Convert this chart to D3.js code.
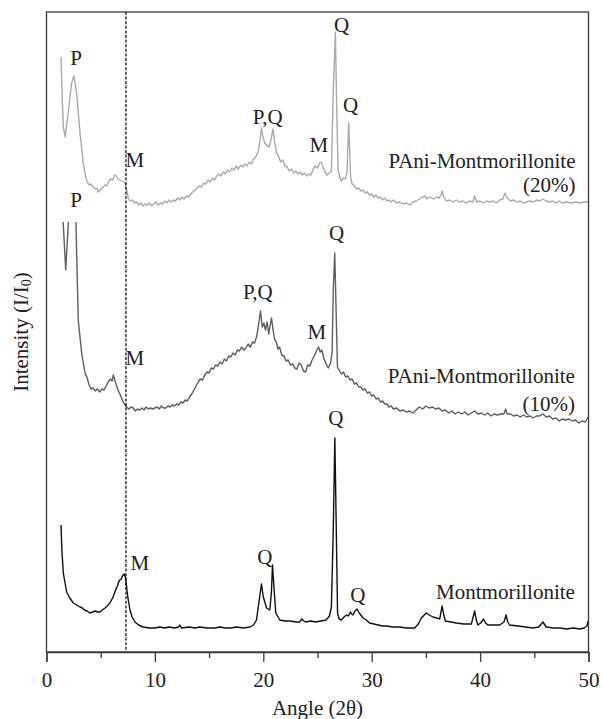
<!DOCTYPE html>
<html><head><meta charset="utf-8">
<script src="https://cdn.jsdelivr.net/npm/d3@7"></script>
<style>body{margin:0;background:#fff}svg{display:block}text{font-family:"Liberation Serif","Times New Roman",serif;fill:#222}</style>
</head><body><div id="chart"></div>
<script>
// ---- data: [angle (2θ), stacked intensity (arbitrary units, offset per trace)] ----
const montmorillonite = [[1.34,127],[1.42,102],[1.55,79],[1.86,60],[2.15,54],[2.47,49],[2.8,47],[3.09,45],[3.3,44],[3.5,42],[3.75,41],[4.0,39],[4.25,40],[4.5,41],[4.7,40],[4.93,40],[5.15,42],[5.4,44],[5.6,46],[5.85,49],[6.1,54],[6.31,60],[6.45,64],[6.55,66],[6.65,70],[6.77,72],[6.9,73],[7.0,76],[7.17,78],[7.3,74],[7.39,65],[7.5,55],[7.7,42],[7.9,35],[8.16,30],[8.5,27],[8.9,25],[9.5,24],[10.0,24],[10.46,25],[10.9,24],[11.3,25],[11.8,24],[12.2,25],[12.3,27],[12.45,24],[13.2,25],[13.7,24],[14.15,25],[14.8,24],[15.5,24],[16.0,25],[16.5,24],[17.0,24],[17.5,25],[18.2,24],[18.76,25],[19.1,27],[19.37,32],[19.6,50],[19.83,68],[20.0,55],[20.3,44],[20.6,42],[20.75,60],[20.85,87],[20.95,70],[21.15,39],[21.52,32],[22.0,31],[22.5,31],[23.0,30],[23.36,30],[23.55,33],[23.75,31],[23.9,30],[24.4,31],[24.8,30],[25.3,31],[25.8,32],[26.1,36],[26.28,45],[26.45,120],[26.6,214],[26.75,110],[26.85,39],[27.0,33],[27.2,32],[27.45,35],[27.67,37],[27.85,36],[28.03,40],[28.15,38],[28.28,37],[28.45,41],[28.64,43],[28.85,39],[29.2,34],[29.5,32],[29.8,29],[30.2,28],[30.6,27],[31.0,26],[31.35,26],[32.0,25],[32.6,25],[33.2,24],[33.96,24],[34.3,28],[34.58,34],[35.04,39],[35.3,37],[35.65,35],[36.0,34],[36.27,33],[36.5,46],[36.65,37],[36.8,31],[37.3,30],[37.8,29],[38.5,28],[39.19,28],[39.5,41],[39.65,32],[39.8,27],[40.05,29],[40.32,33],[40.5,29],[40.72,27],[41.3,27],[41.8,27],[42.2,30],[42.4,37],[42.55,30],[42.72,27],[43.5,26],[44.2,25],[44.87,24],[45.4,25],[45.8,30],[46.1,25],[46.8,24],[47.4,24],[47.95,23],[48.6,24],[49.2,23],[49.6,24],[49.85,26],[49.97,31]];

const pani10 = [[1.48,442],[1.77,382],[2.1,445],[2.4,470],[2.68,445],[2.93,332],[3.24,299],[3.55,279],[3.76,274],[3.9,268],[4.1,263],[4.3,264],[4.5,261],[4.7,263],[4.9,260],[5.1,263],[5.3,262],[5.5,266],[5.7,270],[5.9,273],[6.05,271],[6.16,277],[6.35,270],[6.6,262],[6.85,256],[7.08,250],[7.25,247],[7.39,245],[7.6,243],[7.8,245],[8.0,244],[8.2,241],[8.4,243],[8.6,242],[8.8,244],[9.0,242],[9.2,245],[9.4,243],[9.6,244],[9.8,243],[10.0,244],[10.2,245],[10.4,243],[10.6,246],[10.8,244],[11.0,244],[11.2,246],[11.4,245],[11.6,247],[11.8,246],[12.0,248],[12.2,247],[12.4,250],[12.6,249],[12.8,252],[13.0,251],[13.2,255],[13.4,258],[13.6,262],[13.8,266],[14.0,270],[14.2,273],[14.4,272],[14.6,277],[14.8,280],[15.0,279],[15.2,284],[15.4,283],[15.6,287],[15.8,286],[16.0,290],[16.2,288],[16.4,293],[16.6,291],[16.8,296],[17.0,295],[17.2,299],[17.4,297],[17.6,302],[17.8,301],[18.0,305],[18.2,302],[18.4,304],[18.6,308],[18.8,305],[19.0,310],[19.2,309],[19.4,316],[19.6,330],[19.74,341],[19.9,325],[20.05,329],[20.2,322],[20.35,330],[20.5,318],[20.62,326],[20.76,334],[20.9,322],[21.06,312],[21.2,310],[21.35,303],[21.5,305],[21.7,297],[21.9,296],[22.1,291],[22.3,292],[22.5,287],[22.7,288],[22.9,284],[23.1,283],[23.3,289],[23.5,287],[23.7,281],[23.9,280],[24.1,287],[24.3,286],[24.5,292],[24.7,296],[24.9,301],[25.1,305],[25.25,300],[25.4,302],[25.6,293],[25.8,288],[26.0,284],[26.2,289],[26.35,300],[26.45,360],[26.59,399],[26.72,340],[26.84,285],[27.0,282],[27.2,278],[27.4,280],[27.6,275],[27.8,276],[28.0,272],[28.2,273],[28.4,268],[28.6,269],[28.8,265],[29.0,265],[29.2,262],[29.4,263],[29.6,259],[29.8,260],[30.0,256],[30.2,257],[30.4,253],[30.6,254],[30.8,250],[31.0,251],[31.2,248],[31.4,248],[31.6,245],[31.8,246],[32.0,243],[32.3,244],[32.6,241],[32.9,242],[33.2,240],[33.5,241],[33.8,239],[34.1,242],[34.4,245],[34.7,243],[35.0,246],[35.3,244],[35.6,245],[35.9,243],[36.2,244],[36.5,241],[36.8,242],[37.1,239],[37.4,241],[37.7,238],[38.0,240],[38.3,238],[38.6,240],[38.9,237],[39.2,239],[39.5,241],[39.8,238],[40.1,239],[40.4,237],[40.7,239],[41.0,236],[41.3,238],[41.6,237],[41.9,238],[42.2,238],[42.35,243],[42.5,238],[42.8,238],[43.1,236],[43.4,237],[43.7,235],[44.0,237],[44.3,235],[44.6,236],[44.9,234],[45.2,236],[45.5,236],[45.8,238],[46.1,235],[46.4,236],[46.7,233],[47.0,234],[47.3,231],[47.6,233],[47.9,232],[48.2,233],[48.5,231],[48.8,232],[49.1,229],[49.4,231],[49.7,230],[49.97,235]];

const pani20 = [[1.34,595],[1.46,552],[1.55,525],[1.73,515],[2.0,539],[2.32,569],[2.53,576],[2.78,559],[3.09,519],[3.39,489],[3.6,476],[3.76,470],[3.95,467],[4.1,468],[4.31,465],[4.5,463],[4.65,464],[4.77,460],[4.95,462],[5.1,464],[5.24,465],[5.4,467],[5.55,466],[5.7,470],[5.9,473],[6.1,472],[6.31,477],[6.45,476],[6.6,473],[6.77,472],[6.95,471],[7.1,470],[7.23,469],[7.4,462],[7.54,454],[7.7,451],[7.9,452],[8.1,449],[8.3,450],[8.5,447],[8.7,449],[8.9,446],[9.1,448],[9.3,447],[9.5,449],[9.7,446],[9.9,448],[10.1,450],[10.3,447],[10.5,449],[10.7,448],[10.9,451],[11.1,449],[11.3,452],[11.5,450],[11.7,452],[11.9,451],[12.1,454],[12.3,452],[12.5,455],[12.7,453],[12.9,456],[13.1,455],[13.3,458],[13.5,460],[13.7,462],[13.9,464],[14.1,466],[14.3,465],[14.5,469],[14.7,468],[14.9,472],[15.1,470],[15.3,474],[15.5,472],[15.7,476],[15.9,478],[16.1,476],[16.3,480],[16.5,478],[16.7,482],[16.9,480],[17.1,484],[17.3,482],[17.5,486],[17.7,483],[17.9,487],[18.1,485],[18.3,488],[18.5,486],[18.7,490],[18.9,488],[19.1,493],[19.3,495],[19.52,500],[19.7,512],[19.83,524],[19.97,515],[20.14,509],[20.3,507],[20.53,505],[20.7,512],[20.9,523],[21.05,510],[21.22,499],[21.4,496],[21.6,490],[21.8,492],[22.0,486],[22.2,485],[22.4,481],[22.6,483],[22.8,479],[23.0,481],[23.2,478],[23.4,480],[23.6,477],[23.8,479],[24.0,476],[24.2,478],[24.4,477],[24.6,483],[24.8,486],[25.0,484],[25.2,489],[25.36,490],[25.5,485],[25.7,480],[25.9,477],[26.1,479],[26.28,481],[26.45,560],[26.65,620],[26.78,540],[26.9,482],[27.05,475],[27.2,471],[27.4,474],[27.57,473],[27.72,480],[27.8,505],[27.88,529],[27.96,505],[28.05,475],[28.2,468],[28.4,466],[28.6,463],[28.8,464],[29.0,461],[29.2,462],[29.4,459],[29.6,460],[29.8,457],[30.0,458],[30.2,455],[30.4,457],[30.6,454],[30.8,455],[31.0,452],[31.2,454],[31.4,451],[31.6,452],[31.8,450],[32.0,452],[32.3,449],[32.6,450],[32.9,448],[33.2,449],[33.5,447],[33.8,450],[34.1,451],[34.4,453],[34.7,455],[34.9,456],[35.1,453],[35.4,455],[35.7,453],[36.0,455],[36.2,454],[36.4,457],[36.5,461],[36.65,455],[36.88,451],[37.2,452],[37.5,450],[37.8,452],[38.1,450],[38.4,451],[38.7,449],[39.0,451],[39.3,450],[39.5,456],[39.7,450],[40.0,451],[40.3,449],[40.6,451],[40.9,450],[41.2,451],[41.5,449],[41.8,452],[42.1,453],[42.3,459],[42.5,454],[42.8,451],[43.1,452],[43.4,450],[43.7,451],[44.0,449],[44.3,450],[44.6,451],[44.9,450],[45.2,452],[45.5,451],[45.8,453],[46.1,451],[46.4,450],[46.7,451],[47.0,449],[47.3,451],[47.6,449],[48.0,450],[48.4,449],[48.8,450],[49.2,449],[49.6,450],[49.97,450]];

const xTicks = [0,10,20,30,40,50];
const xMinorTicks = [5,15,25,35,45];
const dashedAngle = 7.33;

// peak labels: text, angle, intensity
const labelText  = ["P","M","P,Q","Q","M","Q", "P","M","P,Q","Q","M", "Q","M","Q","Q"];
const labelAngle = [2.72,8.16,20.41,27.23,25.12,28.06, 2.72,8.16,19.49,26.77,24.93, 26.68,8.62,20.14,28.71];
const labelValue = [594,492,535,627,507,547, 452,294,360,419,320, 234,89,95,57];

// sample names (right-aligned)
const nameText  = ["PAni-Montmorillonite","(20%)","PAni-Montmorillonite","(10%)","Montmorillonite"];
const nameAngle = [48.8,48.8,48.75,48.75,48.75];
const nameValue = [491,467,276,248,60];

// ---- drawing ----
const W = 602, H = 719, FS = 21;
const m = {left:46.5, right:13.5, top:12, bottom:67};
const svg = d3.select("#chart").append("svg").attr("width",W).attr("height",H);
const x = d3.scaleLinear().domain([0,50]).range([m.left, W-m.right]);
const y = d3.scaleLinear().domain([0,640]).range([H-m.bottom, m.top]);

const defs = svg.append("defs");
defs.append("clipPath").attr("id","clipMid").append("rect")
  .attr("x",m.left).attr("y",y(430)).attr("width",W-m.left-m.right).attr("height",y(0)-y(430));

const line = d3.line().x(d=>x(d[0])).y(d=>y(d[1]));
const series = [
  {d:pani20, c:"#aaaaaa", clip:null},
  {d:pani10, c:"#5e5e5e", clip:"url(#clipMid)"},
  {d:montmorillonite, c:"#111111", clip:null}
];
series.forEach(s=>{
  const p = svg.append("path").attr("d",line(s.d)).attr("fill","none")
    .attr("stroke",s.c).attr("stroke-width",1.4).attr("stroke-linejoin","round");
  if(s.clip) p.attr("clip-path",s.clip);
});

// dashed line
svg.append("line").attr("x1",x(dashedAngle)).attr("x2",x(dashedAngle))
  .attr("y1",y(640)).attr("y2",y(0)).attr("stroke","#000").attr("stroke-width",1.2)
  .attr("stroke-dasharray","3,1.6");

// frame
svg.append("rect").attr("x",x(0)).attr("y",y(640)).attr("width",x(50)-x(0)).attr("height",y(0)-y(640))
  .attr("fill","none").attr("stroke","#3a3a3a").attr("stroke-width",1.3);

// axis
const ax = svg.append("g").attr("transform",`translate(0,${y(0)})`)
  .call(d3.axisBottom(x).tickValues(xTicks).tickSize(10).tickPadding(10).tickFormat(d3.format("d")));
ax.select(".domain").attr("stroke","#3a3a3a").attr("stroke-width",1.3);
ax.selectAll(".tick line").attr("stroke","#3a3a3a").attr("stroke-width",1.3);
ax.selectAll("text").attr("font-size",FS).style("font-family","'Liberation Serif',serif").attr("fill","#222");
const axm = svg.append("g").attr("transform",`translate(0,${y(0)})`)
  .call(d3.axisBottom(x).tickValues(xMinorTicks).tickSize(6).tickFormat(""));
axm.select(".domain").remove();
axm.selectAll(".tick line").attr("stroke","#3a3a3a").attr("stroke-width",1.3);

// axis titles
svg.append("text").attr("x",(x(0)+x(50))/2).attr("y",708).attr("text-anchor","middle")
  .attr("dominant-baseline","central").attr("font-size",FS).text("Angle (2θ)");
const yt = svg.append("text").attr("transform",`translate(21,${(y(0)+y(640))/2}) rotate(-90)`)
  .attr("text-anchor","middle").attr("dominant-baseline","central").attr("font-size",FS);
yt.append("tspan").text("Intensity (I/I");
yt.append("tspan").attr("font-size",14).attr("dy",5).text("0");
yt.append("tspan").attr("dy",-5).text(")");

// peak labels
labelText.forEach((t,i)=>{
  svg.append("text").attr("x",x(labelAngle[i])).attr("y",y(labelValue[i]))
    .attr("text-anchor","middle").attr("dominant-baseline","central").attr("font-size",FS).text(t);
});
nameText.forEach((t,i)=>{
  svg.append("text").attr("x",x(nameAngle[i])).attr("y",y(nameValue[i]))
    .attr("text-anchor","end").attr("dominant-baseline","central").attr("font-size",FS).text(t);
});
</script></body></html>
